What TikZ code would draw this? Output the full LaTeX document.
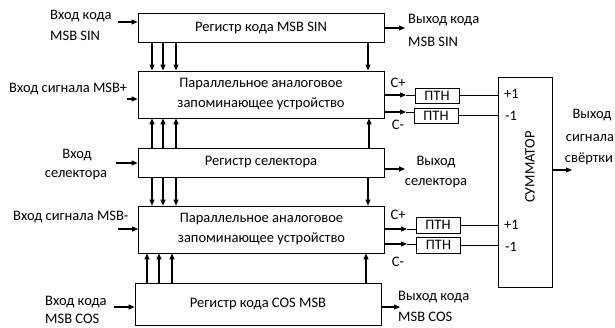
\documentclass[tikz,border=0pt]{standalone}
\usepackage{fontspec}
\setmainfont{Carlito}
\usetikzlibrary{arrows.meta}
\begin{document}
\begin{tikzpicture}[x=1pt,y=-1pt,
  font=\fontsize{14.5}{17}\selectfont,
  blk/.style={draw, line width=0.8pt, inner sep=0pt, minimum width=246pt},
  twoline/.style={align=center, font=\fontsize{14.5}{20}\selectfont},
  ptn/.style={draw, line width=0.8pt, inner sep=0pt, minimum width=44pt, minimum height=15pt},
  arr/.style={line width=1.1pt, -{Triangle[length=6pt,width=5pt]}},
  ln/.style={line width=0.8pt},
  lbl/.style={inner sep=0pt},
]
\useasboundingbox (0,0) rectangle (615,328);

% main blocks
\node[blk, minimum height=29pt] (rsin) at (261,27.5) {Регистр кода MSB SIN};
\node[blk, minimum height=47pt, twoline] (pm1) at (261,94.5) {Параллельное аналоговое\\запоминающее устройство};
\node[blk, minimum height=29pt] (rsel) at (261,162.5) {Регистр селектора};
\node[blk, minimum height=47pt, twoline] (pm2) at (261.5,229.5) {Параллельное аналоговое\\запоминающее устройство};
\node[blk, minimum height=42pt] (rcos) at (258,304) {Регистр кода COS MSB};

% summator
\node[draw, line width=0.8pt, minimum width=54pt, minimum height=210pt, inner sep=0pt] (sum) at (525,182) {};
\node[lbl, rotate=90] (sumt) at (530,167) {СУММАТОР};

% voltage followers
\node[ptn] (p1) at (437,95.5) {ПТН};
\node[ptn] (p2) at (436,115.5) {ПТН};
\node[ptn, minimum height=16pt] (p3) at (438,225) {ПТН};
\node[ptn, minimum height=16pt] (p4) at (438.5,245) {ПТН};

% buses between blocks
\foreach \x in {152,163,176} {
  \draw[arr] (rsin.south -| \x,0) -- (pm1.north -| \x,0);
  \draw[arr] (rsel.north -| \x,0) -- (pm1.south -| \x,0);
  \draw[arr] (rsel.south -| \x,0) -- (pm2.north -| \x,0);
}
\foreach \x in {147,159,172}
  \draw[arr] (rcos.north -| \x,0) -- (pm2.south -| \x,0);
\draw[arr] (rsin.south -| 368,0) -- (pm1.north -| 368,0);
\draw[arr] (rsel.north -| 369,0) -- (pm1.south -| 369,0);
\draw[arr] (rsel.south -| 368,0) -- (pm2.north -| 368,0);
\draw[arr] (rcos.north -| 366,0) -- (pm2.south -| 366,0);

% inputs
\node[lbl, anchor=west] (isin1) at (50,16) {Вход кода};
\node[lbl, anchor=west] (isin2) at (50,36) {MSB SIN};
\coordinate (isin) at (118,22);
\draw[arr] (isin) -- (rsin.west |- isin);

\node[lbl, anchor=west] (ip) at (9,89) {Вход сигнала MSB+};
\coordinate (ipa) at (127,99);
\draw[arr] (ipa) -- (pm1.west |- ipa);

\node[lbl] (isel1) at (77,155) {Вход};
\node[lbl] (isel2) at (76,175) {селектора};
\coordinate (isel) at (116,163);
\draw[arr] (isel) -- (rsel.west |- isel);

\node[lbl, anchor=west] (im) at (13,217) {Вход сигнала MSB-};
\coordinate (ima) at (118,229);
\draw[arr] (ima) -- (pm2.west |- ima);

\node[lbl, anchor=west] (icos1) at (45,302) {Вход кода};
\node[lbl, anchor=west] (icos2) at (45,319) {MSB COS};
\coordinate (icos) at (114,307);
\draw[arr] (icos) -- (rcos.west |- icos);

% outputs
\coordinate (osin) at (405,28);
\draw[arr] (rsin.east |- osin) -- (osin);
\node[lbl, anchor=west] (osin1) at (408,20) {Выход кода};
\node[lbl, anchor=west] (osin2) at (408,42) {MSB SIN};

\coordinate (osel) at (405,169);
\draw[arr] (rsel.east |- osel) -- (osel);
\node[lbl] (osel1) at (436,162) {Выход};
\node[lbl] (osel2) at (436,183) {селектора};

\coordinate (ocos) at (400,307);
\draw[arr] (rcos.east |- ocos) -- (ocos);
\node[lbl, anchor=west] (ocos1) at (398,297) {Выход кода};
\node[lbl, anchor=west] (ocos2) at (398,317) {MSB COS};

\coordinate (osum) at (572,170);
\draw[arr] (sum.east |- osum) -- (osum);
\node[lbl] (os1) at (592,115) {Выход};
\node[lbl] (os2) at (590,138) {сигнала};
\node[lbl] (os3) at (589,159) {свёртки};

% memory outputs to followers
\coordinate (m1) at (406,95);
\coordinate (m2) at (406,112);
\coordinate (m3) at (407,229);
\coordinate (m4) at (407,244);
\draw[arr] (pm1.east |- m1) -- (m1);
\draw[ln] (m1) -- (p1.west |- m1);
\draw[arr] (pm1.east |- m2) -- (m2);
\draw[ln] (m2) -- (p2.west |- m2);
\draw[arr] (pm2.east |- m3) -- (m3);
\draw[ln] (m3) -- (p3.west |- m3);
\draw[arr] (pm2.east |- m4) -- (m4);
\draw[ln] (m4) -- (p4.west |- m4);

\node[lbl] (cp1) at (398,83) {C+};
\node[lbl] (cm1) at (398,125) {C-};
\node[lbl] (cp2) at (398,215) {C+};
\node[lbl] (cm2) at (398,262) {C-};

% followers to summator
\draw[ln] (p1.east) -- (sum.west |- p1.east);
\draw[ln] (p2.east) -- (sum.west |- p2.east);
\draw[ln] (p3.east) -- (sum.west |- p3.east);
\draw[ln] (p4.east) -- (sum.west |- p4.east);
\node[lbl, anchor=west] (s1) at (504,94) {+1};
\node[lbl, anchor=west] (s2) at (505,116) {-1};
\node[lbl, anchor=west] (s3) at (504,225) {+1};
\node[lbl, anchor=west] (s4) at (505,247) {-1};
\end{tikzpicture}
\end{document}
